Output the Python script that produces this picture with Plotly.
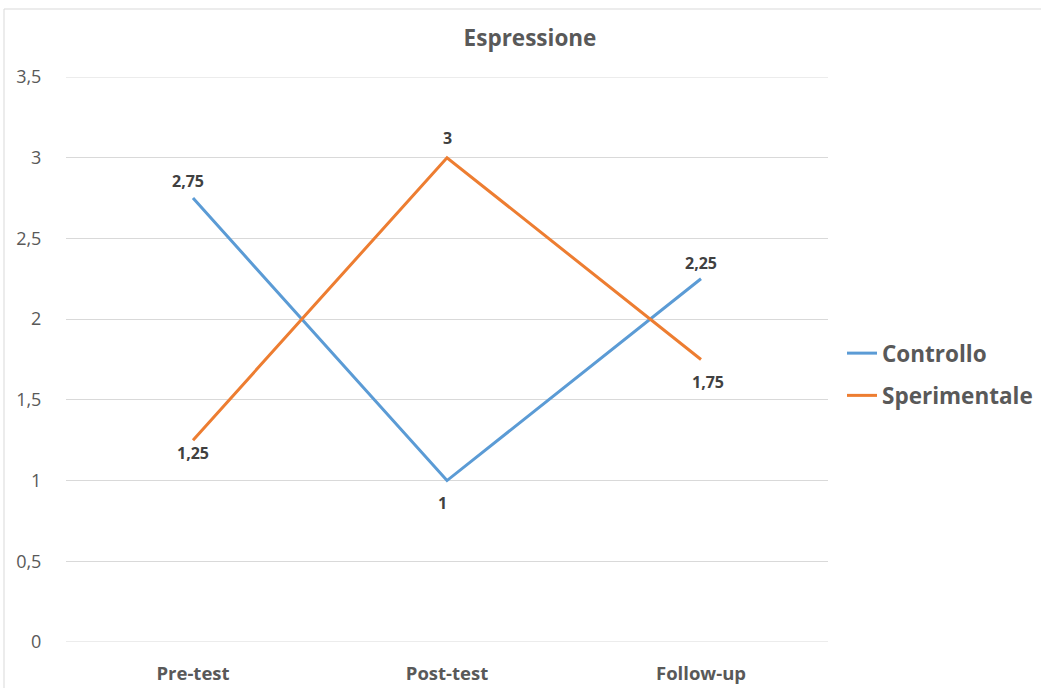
import plotly.graph_objects as go

categories = ["Pre-test", "Post-test", "Follow-up"]
controllo = [2.75, 1, 2.25]
sperimentale = [1.25, 3, 1.75]
y_ticks = [0, 0.5, 1, 1.5, 2, 2.5, 3, 3.5]
y_tick_labels = ["0", "0,5", "1", "1,5", "2", "2,5", "3", "3,5"]

def fmt(v):
    return ("%g" % v).replace(".", ",")

FONT = "Open Sans"
GREY = "#595959"
LABEL = "#404040"
GRID = "#D9D9D9"

# Horizontal / vertical pixel offsets of each data label from its point
ctrl_shift = [(-5, 17), (-5, -22), (0, 16)]
sper_shift = [(0, -13), (0, 20), (7, -22)]

fig = go.Figure()
fig.add_trace(go.Scatter(
    x=categories, y=controllo, name="Controllo", mode="lines",
    line=dict(color="#5B9BD5", width=3), legendgroup="c",
))
fig.add_trace(go.Scatter(
    x=categories, y=sperimentale, name="Sperimentale", mode="lines",
    line=dict(color="#ED7D31", width=3), legendgroup="s",
))

for vals, shifts in ((controllo, ctrl_shift), (sperimentale, sper_shift)):
    for cat, v, (dx, dy) in zip(categories, vals, shifts):
        fig.add_annotation(x=cat, y=v, text="<b>%s</b>" % fmt(v), showarrow=False,
                           xshift=dx, yshift=dy, xanchor="center", yanchor="middle",
                           font=dict(family=FONT, size=16, color=LABEL))

L, R, T, B = 66, 213, 77, 46
W, H = 1041, 688
pw, ph = W - L - R, H - T - B

fig.update_layout(
    width=W, height=H,
    margin=dict(l=L, r=R, t=T, b=B, autoexpand=False),
    paper_bgcolor="white", plot_bgcolor="white",
    title=dict(text="<b>Espressione</b>", x=(530 - L) / pw, xref="paper", xanchor="center",
               y=1 - 38 / H, yanchor="middle",
               font=dict(family=FONT, size=22.5, color=GREY)),
    xaxis=dict(range=[-0.5, 2.5], showgrid=False, zeroline=False, showline=False,
               automargin=False,
               tickfont=dict(family=FONT, size=18.5, color=GREY, weight="bold"),
               ticks="outside", ticklen=15, tickcolor="rgba(0,0,0,0)"),
    yaxis=dict(range=[0, 3.5], tickvals=y_ticks, ticktext=y_tick_labels,
               showgrid=True, gridcolor=GRID, gridwidth=1, zeroline=False,
               showline=False, automargin=False,
               tickfont=dict(family=FONT, size=18, color=GREY),
               ticks="outside", ticklen=20, tickcolor="rgba(0,0,0,0)"),
    legend=dict(x=1 + (842 - L - pw) / pw, xanchor="left", y=1 - (332 - T) / ph, yanchor="top",
                font=dict(family=FONT, size=22.5, color=GREY, weight="bold"),
                itemwidth=30, tracegroupgap=10, bgcolor="rgba(0,0,0,0)"),
    showlegend=True,
)

# Gridlines on the two ends of the value range
for yv in (y_ticks[0], y_ticks[-1]):
    fig.add_shape(type="line", xref="paper", yref="y", x0=0, x1=1, y0=yv, y1=yv,
                  line=dict(color=GRID, width=1), layer="below")

# Light outer frame of the chart area
fig.add_shape(type="rect", xref="paper", yref="paper",
              x0=(4 - L) / pw, x1=(W + 5 - L) / pw,
              y0=-(B + 5) / ph, y1=1 + (T - 9) / ph,
              line=dict(color=GRID, width=1), fillcolor="rgba(0,0,0,0)", layer="below")

fig.write_html("out.html")
